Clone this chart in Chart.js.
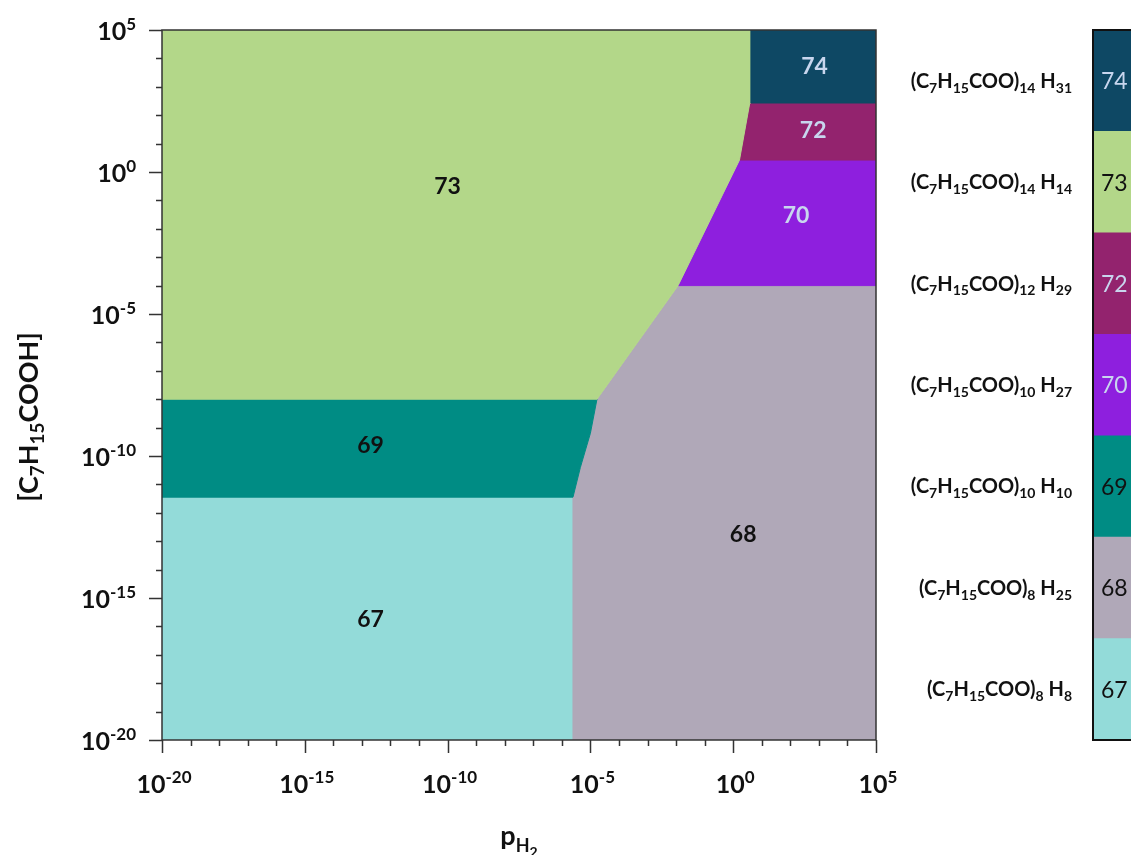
<!DOCTYPE html>
<html>
<head>
<meta charset="utf-8">
<script src="https://cdn.jsdelivr.net/npm/chart.js@4.4.1/dist/chart.umd.min.js"></script>
<style>
  html, body { margin: 0; padding: 0; background: #fff; overflow: hidden; width: 1131px; height: 855px; }
  #wrap { position: relative; width: 1131px; height: 855px; }
  #phase { position: absolute; left: 0; top: 0; }
  #bar { position: absolute; left: 880px; top: 0; }
</style>
</head>
<body>
<div id="wrap">
  <canvas id="phase" width="1131" height="855"></canvas>
  <canvas id="bar" width="330" height="855"></canvas>
</div>
<script>
// phases, top to bottom as in the colour bar
const phaseIds = ['74', '73', '72', '70', '69', '68', '67'];
const phaseFormulas = [
    '(C_7H_15COO)_14 H_31',
    '(C_7H_15COO)_14 H_14',
    '(C_7H_15COO)_12 H_29',
    '(C_7H_15COO)_10 H_27',
    '(C_7H_15COO)_10 H_10',
    '(C_7H_15COO)_8 H_25',
    '(C_7H_15COO)_8 H_8'
];
const phaseColors = ['#0e4864', '#b3d789', '#93236e', '#8e1fde', '#008c84', '#b0a8b8', '#93dbd9'];
const numberColors = ['#c8d6ee', '#111111', '#c8d6ee', '#c8d6ee', '#111111', '#111111', '#111111'];
const barSpan = [1, 1, 1, 1, 1, 1, 1];

// stability regions, vertices as [log10 pH2, log10 [C7H15COOH]]
const region74 = [[0.62, 5], [5, 5], [5, 2.43], [0.62, 2.43]];
const region73 = [[-20, 5], [0.62, 5], [0.62, 2.43], [0.58, 2.43], [0.22, 0.42], [-1.93, -4], [-4.77, -8], [-20, -8]];
const region72 = [[0.58, 2.43], [5, 2.43], [5, 0.42], [0.22, 0.42]];
const region70 = [[0.22, 0.42], [5, 0.42], [5, -4], [-1.93, -4]];
const region69 = [[-20, -8], [-4.77, -8], [-5.0, -9.2], [-5.35, -10.4], [-5.61, -11.45], [-20, -11.45]];
const region68 = [[-1.93, -4], [5, -4], [5, -20], [-5.61, -20], [-5.61, -11.45], [-5.35, -10.4], [-5.0, -9.2], [-4.77, -8]];
const region67 = [[-20, -11.45], [-5.61, -11.45], [-5.61, -20], [-20, -20]];
const regions = [region74, region73, region72, region70, region69, region68, region67];

// where each phase number sits inside the diagram
const labelX = [2.85, -10.0, 2.8, 2.2, -12.7, 0.35, -12.7];
const labelY = [3.7, -0.5, 1.45, -1.55, -9.65, -12.75, -15.75];

const xTickExps = [-20, -15, -10, -5, 0, 5];
const yTickExps = [5, 0, -5, -10, -15, -20];

const FONT = 'Lato, "Open Sans", sans-serif';
Chart.defaults.font.family = FONT;

// draws text with _sub and ^sup digit runs
function drawRich(ctx, text, x, y, size, align, weight) {
    const runs = [];
    const re = /([_^])(-?\d+)|([^_^]+)/g;
    let m;
    while ((m = re.exec(text)) !== null) {
        if (m[3]) runs.push({ t: m[3], s: size, dy: 0 });
        else if (m[1] === '_') runs.push({ t: m[2], s: size * 0.7, dy: size * 0.24 });
        else runs.push({ t: m[2], s: size * 0.68, dy: -size * 0.4 });
    }
    let total = 0;
    runs.forEach(r => {
        ctx.font = `${weight} ${r.s}px ${FONT}`;
        r.w = ctx.measureText(r.t).width;
        total += r.w;
    });
    let cx = align === 'right' ? x - total : align === 'center' ? x - total / 2 : x;
    ctx.textAlign = 'left';
    ctx.textBaseline = 'alphabetic';
    runs.forEach(r => {
        ctx.font = `${weight} ${r.s}px ${FONT}`;
        ctx.fillText(r.t, cx, y + r.dy);
        cx += r.w;
    });
}

const axisDeco = {
    id: 'axisDeco',
    afterDraw(chart) {
        const { ctx, chartArea: a, scales: { x, y } } = chart;
        ctx.save();
        ctx.strokeStyle = '#333';
        ctx.lineWidth = 1.5;
        ctx.strokeRect(a.left, a.top, a.right - a.left, a.bottom - a.top);

        // ticks every decade, longer every 5 decades
        ctx.beginPath();
        for (let e = -20; e <= 5; e++) {
            const len = e % 5 === 0 ? 13 : 6;
            const px = Math.round(x.getPixelForValue(e)) + 0.5;
            ctx.moveTo(px, a.bottom);
            ctx.lineTo(px, a.bottom + len);
            const py = Math.round(y.getPixelForValue(e)) + 0.5;
            ctx.moveTo(a.left, py);
            ctx.lineTo(a.left - len, py);
        }
        ctx.stroke();

        ctx.fillStyle = '#111';
        xTickExps.forEach(e => {
            drawRich(ctx, '10^' + e, x.getPixelForValue(e) + 2, a.bottom + 53, 25, 'center', 'bold');
        });
        yTickExps.forEach(e => {
            drawRich(ctx, '10^' + e, a.left - 26, y.getPixelForValue(e) + 10, 25, 'right', 'bold');
        });

        // axis titles
        ctx.font = `bold 27px ${FONT}`;
        ctx.textAlign = 'left';
        const pw = ctx.measureText('p').width;
        ctx.font = `bold 18px ${FONT}`;
        const hw = ctx.measureText('H').width;
        ctx.font = `bold 14px ${FONT}`;
        const tw = ctx.measureText('2').width;
        let sx = (a.left + a.right) / 2 - (pw + hw + tw) / 2;
        ctx.font = `bold 27px ${FONT}`;
        ctx.fillText('p', sx, 845);
        ctx.font = `bold 18px ${FONT}`;
        ctx.fillText('H', sx + pw, 852);
        ctx.font = `bold 14px ${FONT}`;
        ctx.fillText('2', sx + pw + hw, 857);

        ctx.save();
        ctx.translate(38, (a.top + a.bottom) / 2 + 32);
        ctx.rotate(-Math.PI / 2);
        drawRich(ctx, '[C_7H_15COOH]', 0, 0, 27, 'center', 'bold');
        ctx.restore();

        // phase numbers inside regions
        ctx.font = `bold 23px ${FONT}`;
        ctx.textAlign = 'center';
        ctx.textBaseline = 'middle';
        phaseIds.forEach((id, i) => {
            ctx.fillStyle = numberColors[i];
            ctx.fillText(id, x.getPixelForValue(labelX[i]), y.getPixelForValue(labelY[i]));
        });
        ctx.restore();
    }
};

new Chart(document.getElementById('phase'), {
    type: 'scatter',
    data: {
        datasets: regions.map((r, i) => ({
            label: phaseIds[i],
            data: r.concat([r[0]]).map(p => ({ x: p[0], y: p[1] })),
            showLine: true,
            fill: 'shape',
            backgroundColor: phaseColors[i],
            borderColor: phaseColors[i],
            borderWidth: 1,
            pointRadius: 0,
            tension: 0
        }))
    },
    options: {
        responsive: false,
        animation: false,
        layout: { padding: { top: 30, right: 255, left: 0, bottom: 0 } },
        plugins: { legend: { display: false }, tooltip: { enabled: false } },
        scales: {
            x: {
                type: 'linear', min: -20, max: 5,
                ticks: { display: false },
                grid: { display: false },
                border: { display: false },
                afterFit(s) { s.height = 115; }
            },
            y: {
                type: 'linear', min: -20, max: 5,
                ticks: { display: false },
                grid: { display: false },
                border: { display: false },
                afterFit(s) { s.width = 162; }
            }
        }
    },
    plugins: [axisDeco]
});

// colour bar with formula names
const barDeco = {
    id: 'barDeco',
    afterDraw(chart) {
        const { ctx, chartArea: a, scales: { y } } = chart;
        ctx.save();
        phaseFormulas.forEach((f, i) => {
            const cy = y.getPixelForValue(i);
            ctx.fillStyle = '#111';
            drawRich(ctx, f, a.left - 21, cy + 7, 20, 'right', 'bold');
            ctx.font = `23px ${FONT}`;
            ctx.textAlign = 'left';
            ctx.textBaseline = 'middle';
            ctx.fillStyle = numberColors[i];
            ctx.fillText(phaseIds[i], a.left + 8, cy + 1);
        });
        ctx.strokeStyle = '#111';
        ctx.lineWidth = 2;
        ctx.strokeRect(a.left, a.top, a.right - a.left, a.bottom - a.top);
        ctx.restore();
    }
};

new Chart(document.getElementById('bar'), {
    type: 'bar',
    data: {
        labels: phaseFormulas,
        datasets: [{
            data: barSpan,
            backgroundColor: phaseColors,
            borderWidth: 0,
            categoryPercentage: 1,
            barPercentage: 1
        }]
    },
    options: {
        indexAxis: 'y',
        responsive: false,
        animation: false,
        layout: { padding: { top: 30, right: 10, left: 0, bottom: 115 } },
        plugins: { legend: { display: false }, tooltip: { enabled: false } },
        scales: {
            x: { min: 0, max: 1, display: false },
            y: {
                ticks: { display: false },
                grid: { display: false },
                border: { display: false },
                afterFit(s) { s.width = 213; }
            }
        }
    },
    plugins: [barDeco]
});
</script>
</body>
</html>
